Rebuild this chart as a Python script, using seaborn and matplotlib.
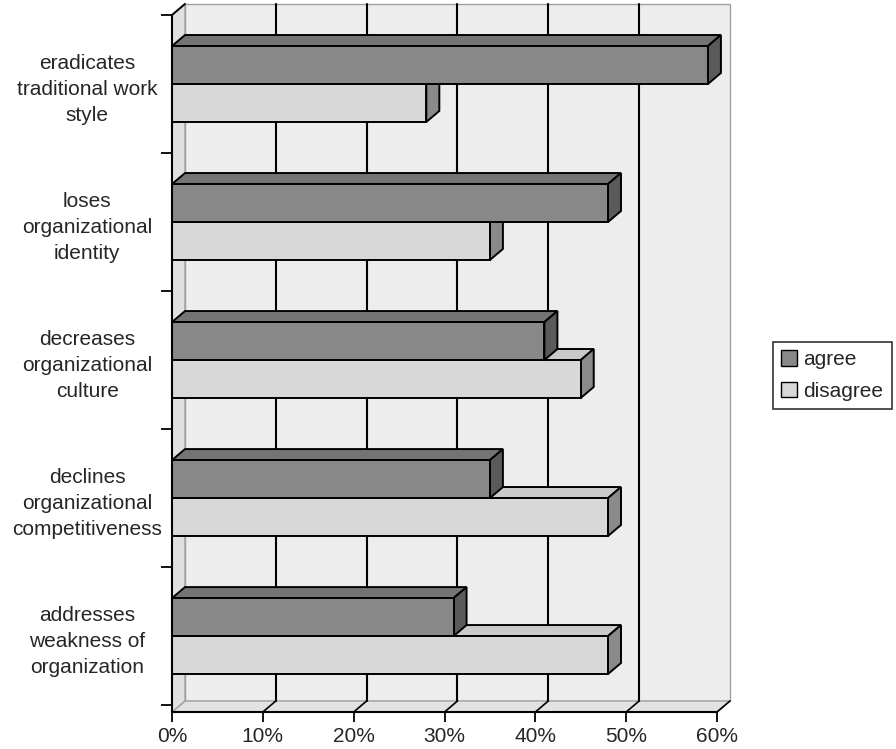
import matplotlib
matplotlib.use("Agg")
import matplotlib.pyplot as plt
import numpy as np
import pandas as pd
import seaborn as sns
from matplotlib.patches import Polygon, Rectangle, Patch

# Survey statements and share of respondents (%)
statements = [
    "eradicates\ntraditional work\nstyle",
    "loses\norganizational\nidentity",
    "decreases\norganizational\nculture",
    "declines\norganizational\ncompetitiveness",
    "addresses\nweakness of\norganization",
]
agree = [59, 48, 41, 35, 31]
disagree = [28, 35, 45, 48, 48]
responses = ["agree", "disagree"]
x_ticks = [0, 10, 20, 30, 40, 50, 60]
x_tick_labels = [f"{t}%" for t in x_ticks]

df = pd.DataFrame({
    "statement": statements * 2,
    "response": ["agree"] * len(agree) + ["disagree"] * len(disagree),
    "share": agree + disagree,
})

sns.set_theme(style="white")
plt.rcParams["font.family"] = ["Liberation Sans", "DejaVu Sans"]

W, H = 896, 749
fig = plt.figure(figsize=(W / 100, H / 100), dpi=100)
ax = fig.add_axes([172 / W, 1 - 712 / H, 545 / W, (712 - 15) / H])

front = {"agree": "#888888", "disagree": "#d8d8d8"}
top = {"agree": "#747474", "disagree": "#cacaca"}
side = {"agree": "#5a5a5a", "disagree": "#8a8a8a"}

sns.barplot(data=df, y="statement", x="share", hue="response",
            hue_order=responses, orient="h", width=0.55, palette=front,
            saturation=1, edgecolor="black", linewidth=1.4, ax=ax)

x_max = 60
y_top, y_bot = -0.5, 4.55
dx, dy = 1.43, -0.08   # depth offset of the 3-D box (data units)

ax.set_xlim(0, x_max)
ax.set_ylim(y_bot, y_top)
ax.patch.set_visible(False)

# walls: back, floor and left side
ax.add_patch(Rectangle((dx, y_top + dy), x_max, y_bot - y_top,
                       facecolor="#ededed", edgecolor="#a0a0a0", lw=1.0,
                       zorder=0, clip_on=False))
ax.add_patch(Polygon([(0, y_bot), (x_max, y_bot), (x_max + dx, y_bot + dy),
                      (dx, y_bot + dy)], closed=True, facecolor="#e2e2e2",
                     edgecolor="#a0a0a0", lw=1.0, zorder=0.2, clip_on=False))
ax.add_patch(Polygon([(0, y_top), (dx, y_top + dy), (dx, y_bot + dy),
                      (0, y_bot)], closed=True, facecolor="#e0e0e0",
                     edgecolor="#a0a0a0", lw=1.0, zorder=0.2, clip_on=False))
ax.plot([0, dx], [y_top, y_top + dy], color="black", lw=1.4, zorder=0.5,
        clip_on=False)

# gridlines on the back wall and their continuation across the floor
for v in x_ticks[1:-1]:
    ax.plot([v + dx, v + dx], [y_top + dy, y_bot + dy], color="black",
            lw=1.5, zorder=0.5, clip_on=False)
for v in x_ticks[1:]:
    ax.plot([v, v + dx], [y_bot, y_bot + dy], color="black", lw=1.2,
            zorder=0.5, clip_on=False)

# top and side faces give each bar its depth
for level, container in zip(responses, ax.containers):
    z = 3 if level == "agree" else 2
    for bar in container:
        bar.set_zorder(z + 0.1)
        x0, y0 = bar.get_x(), bar.get_y()
        x1, y1 = x0 + bar.get_width(), y0 + bar.get_height()
        ax.add_patch(Polygon([(x0, y0), (x0 + dx, y0 + dy), (x1 + dx, y0 + dy),
                              (x1, y0)], closed=True, facecolor=top[level],
                             edgecolor="black", lw=1.4, zorder=z,
                             clip_on=False))
        ax.add_patch(Polygon([(x1, y0), (x1 + dx, y0 + dy), (x1 + dx, y1 + dy),
                              (x1, y1)], closed=True, facecolor=side[level],
                             edgecolor="black", lw=1.4, zorder=z,
                             clip_on=False))

# axes, ticks and labels
for name, spine in ax.spines.items():
    spine.set_visible(name in ("left", "bottom"))
    spine.set_color("black")
    spine.set_linewidth(1.5)
    spine.set_zorder(4)

ax.set_xticks(x_ticks)
ax.set_xticklabels(x_tick_labels, fontsize=15)
ax.tick_params(axis="x", direction="out", length=7, width=1.3,
               color="black", pad=4, bottom=True)

ax.set_yticks(range(len(statements)))
ax.set_yticklabels(statements, fontsize=15, ha="center",
                   multialignment="center", linespacing=1.45)
ax.set_yticks(np.arange(-0.5, len(statements), 1.0), minor=True)
ax.tick_params(axis="y", which="major", length=0, pad=61)
ax.tick_params(axis="y", which="minor", direction="out", length=8,
               width=1.3, color="black", left=True)
ax.set_xlabel("")
ax.set_ylabel("")

if ax.get_legend() is not None:
    ax.get_legend().remove()
handles = [Patch(facecolor=front[r], edgecolor="black", lw=1.0)
           for r in responses]
leg = fig.legend(handles, responses, loc="upper left",
                 bbox_to_anchor=(773 / W, 1 - 342 / H), frameon=True,
                 fancybox=False, edgecolor="black", fontsize=15,
                 handlelength=0.75, handleheight=0.75, handletextpad=0.3,
                 borderpad=0.4, labelspacing=0.6, borderaxespad=0)
leg.get_frame().set_linewidth(1.2)

fig.savefig("out.png", dpi=100)
